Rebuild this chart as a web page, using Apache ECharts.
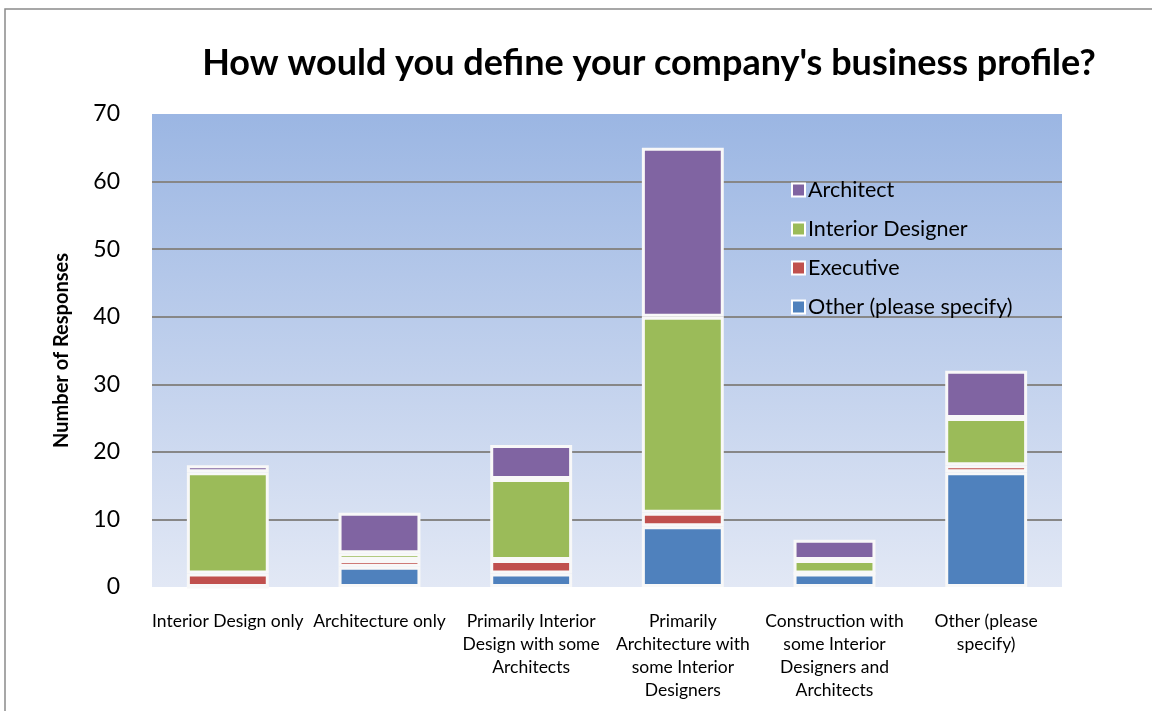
<!DOCTYPE html>
<html>
<head>
<meta charset="utf-8">
<script src="https://cdn.jsdelivr.net/npm/echarts@6/dist/echarts.min.js"></script>
<style>
  html, body { margin: 0; padding: 0; background: #fff; }
  #chart { width: 1152px; height: 711px; }
</style>
</head>
<body>
<div id="chart"></div>
<script>
  // categories along the x axis
  const categories = [
    'Interior Design only',
    'Architecture only',
    'Primarily Interior\nDesign with some\nArchitects',
    'Primarily\nArchitecture with\nsome Interior\nDesigners',
    'Construction with\nsome Interior\nDesigners and\nArchitects',
    'Other (please\nspecify)'
  ]
  // stacked values, bottom to top
  const otherValues = [0, 3, 2, 9, 2, 17]
  const executiveValues = [2, 1, 2, 2, 0, 1]
  const interiorValues = [15, 1, 12, 29, 2, 7]
  const architectValues = [1, 6, 5, 25, 3, 7]
  const yTicks = [0, 10, 20, 30, 40, 50, 60, 70]

  const font = 'Lato, "Open Sans", sans-serif'
  const colors = ['#4f81bd', '#c0504d', '#9bbb59', '#8064a2']

  const chart = echarts.init(document.getElementById('chart'))

  function makeSeries (name, data, index) {
    return {
      name: name,
      type: 'bar',
      stack: 'total',
      data: data,
      barWidth: '54%',
      itemStyle: {
        color: colors[index],
        borderColor: '#f8f8f8',
        borderWidth: 3
      },
      emphasis: { disabled: true }
    }
  }

  const option = {
    animation: false,
    backgroundColor: '#fff',
    graphic: [{
      type: 'rect',
      shape: { x: 5, y: 9, width: 1200, height: 760 },
      style: { fill: 'none', stroke: '#8a8a8a', lineWidth: 1.5 },
      silent: true,
      z: -1
    }],
    title: {
      text: "How would you define your company's business profile?",
      left: 644,
      textAlign: 'center',
      top: 40,
      textStyle: { fontFamily: font, fontWeight: 'bold', fontSize: 36, color: '#000' }
    },
    legend: {
      data: ['Architect', 'Interior Designer', 'Executive', 'Other (please specify)'],
      orient: 'vertical',
      left: 786,
      top: 174,
      itemGap: 17,
      itemWidth: 13,
      itemHeight: 13,
      icon: 'rect',
      itemStyle: { borderColor: '#fff', borderWidth: 2 },
      textStyle: { fontFamily: font, fontSize: 21.5, color: '#000', padding: [0, 0, 0, -2] }
    },
    grid: {
      left: 152,
      right: 90,
      top: 114,
      bottom: 124,
      show: true,
      borderWidth: 0,
      backgroundColor: new echarts.graphic.LinearGradient(0, 0, 0, 1, [
        { offset: 0, color: '#9bb6e3' },
        { offset: 1, color: '#e2e8f5' }
      ])
    },
    xAxis: {
      type: 'category',
      data: categories,
      axisLine: { show: false },
      axisTick: { show: false },
      axisLabel: {
        interval: 0,
        margin: 23,
        fontFamily: font,
        fontSize: 17.5,
        lineHeight: 23,
        color: '#000',
        align: 'center'
      }
    },
    yAxis: {
      type: 'value',
      min: yTicks[0],
      max: yTicks[yTicks.length - 1],
      interval: 10,
      name: 'Number of Responses',
      nameLocation: 'middle',
      nameGap: 80,
      nameRotate: 90,
      nameTextStyle: { fontFamily: font, fontWeight: 'bold', fontSize: 20, color: '#000' },
      axisLine: { show: false },
      axisTick: { show: false },
      axisLabel: { fontFamily: font, fontSize: 23, color: '#000', margin: 32 },
      splitLine: { showMaxLine: false, showMinLine: false, lineStyle: { color: '#878787', width: 2 } }
    },
    series: [
      makeSeries('Other (please specify)', otherValues, 0),
      makeSeries('Executive', executiveValues, 1),
      makeSeries('Interior Designer', interiorValues, 2),
      makeSeries('Architect', architectValues, 3)
    ]
  }

  chart.setOption(option)
</script>
</body>
</html>
